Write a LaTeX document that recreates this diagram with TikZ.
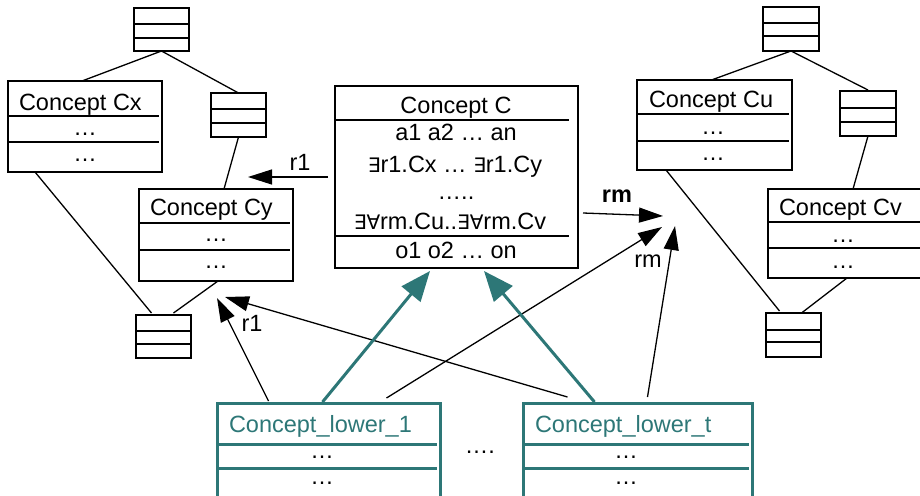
\documentclass[tikz,border=0pt]{standalone}
\usepackage{fontspec}
\setmainfont{Liberation Sans}
\newfontfamily\opfont{DejaVu Sans}[Scale=0.85]
\usetikzlibrary{arrows.meta,calc}
\definecolor{tealc}{RGB}{45,119,119}
% logical quantifiers taken from a font that has them
\newcommand\qex{{\opfont ∃}}
\newcommand\qall{{\opfont ∀}}
% a framed box: [style]{x1}{y1}{x2}{y2}{name}
\newcommand\umlframe[6][]{%
  \node[umlbox,#1,minimum width=#4pt-#2pt,minimum height=#5pt-#3pt] (#6) at (#2,#3) {};}

\begin{document}
\begin{tikzpicture}[x=1pt,y=-1pt,
  every node/.style={font=\fontsize{23.5}{27}\selectfont, inner sep=0pt, outer sep=0pt},
  umlbox/.style={draw, line width=1.6pt, anchor=north west},
  lowerbox/.style={draw=tealc, line width=3pt},
  divline/.style={line width=1.6pt},
  tealdiv/.style={draw=tealc, line width=3pt},
  link/.style={line width=1.3pt},
  rel/.style={line width=1.3pt, -{Triangle[length=24pt,width=15pt]}},
  isa/.style={draw=tealc, line width=3pt, -{Triangle[length=30pt,width=24pt]}},
  title/.style={anchor=base west},
  dots/.style={anchor=base},
]
\useasboundingbox (0,0) rectangle (920,495);

% ---------- left hierarchy ----------
\umlframe{134}{8}{189}{51}{tl}
\draw[divline] (134,24) -- (189,24) (134,38) -- (189,38);

\umlframe{8}{81}{162}{172}{cx}
\draw[divline] (8,116) -- (159,116) (8,142) -- (159,142);
\node[title] (cxt) at (19,110) {Concept Cx};
\node[dots] (cxd1) at (85,135) {…};
\node[dots] (cxd2) at (85,161) {…};

\umlframe{211}{93}{266}{137}{sa}
\draw[divline] (211,109) -- (266,109) (211,123) -- (266,123);

\umlframe{139}{189}{293}{281}{cy}
\draw[divline] (139,223) -- (290,223) (139,250) -- (290,250);
\node[title] (cyt) at (150,215) {Concept Cy};
\node[dots] (cyd1) at (216,241) {…};
\node[dots] (cyd2) at (216,268) {…};

\umlframe{136}{315}{191}{358}{sb}
\draw[divline] (136,331) -- (191,331) (136,344) -- (191,344);

\draw[link] (tl.south) -- ([xshift=-3pt]cx.north);
\draw[link] (tl.south) -- (sa.north);
\draw[link] (sa.south) -- ($(cy.north)+(8,0)$);
\draw[link] ($(cx.south west)+(27,0)$) -- ($(sb.north)+(-12,-2)$);
\draw[link] ($(cy.south)+(2,0)$) -- ($(sb.north)+(10,-2)$);

% ---------- right hierarchy ----------
\umlframe{763}{7}{819}{51}{tr}
\draw[divline] (763,23) -- (819,23) (763,36) -- (819,36);

\umlframe{637}{80}{792}{170}{cu}
\draw[divline] (637,114) -- (789,114) (637,141) -- (789,141);
\node[title] (cut) at (649,107) {Concept Cu};
\node[dots] (cud1) at (713,134) {…};
\node[dots] (cud2) at (713,160) {…};

\umlframe{840}{91}{896}{136}{sc}
\draw[divline] (840,108) -- (896,108) (840,122) -- (896,122);

\umlframe{768}{189}{924}{278}{cv}
\draw[divline] (768,222) -- (924,222) (768,248) -- (924,248);
\node[title] (cvt) at (779,215) {Concept Cv};
\node[dots] (cvd1) at (843,242) {…};
\node[dots] (cvd2) at (843,268) {…};

\umlframe{766}{313}{821}{357}{sd}
\draw[divline] (766,330) -- (821,330) (766,342) -- (821,342);

\draw[link] (tr.south) -- ([xshift=-3pt]cu.north);
\draw[link] (tr.south) -- ($(sc.north)+(-0,-1)$);
\draw[link] (sc.south) -- ($(cv.north)+(7,0)$);
\draw[link] ($(cu.south west)+(29,0)$) -- ($(sd.north)+(-14,-2)$);
\draw[link] ($(cv.south)+(1,0)$) -- ($(sd.north)+(8,0)$);

% ---------- central concept ----------
\umlframe{335}{86}{578}{268}{cc}
\draw[divline] (335,120) -- (569,120) (335,236) -- (569,236);
\node[dots] (cct) at (456,113) {Concept C};
\node[dots] (cca) at (456,140) {a1 a2 … an};
\node[dots] (ccr) at (455,172) {\qex r1.Cx … \qex r1.Cy};
\node[dots] (ccm) at (456,199) {…..};
\node[dots] (ccv) at (450,229) {\qex\qall rm.Cu..\qex\qall rm.Cv};
\node[dots] (cco) at (456,258) {o1 o2 … on};

% ---------- lower concepts ----------
\umlframe[lowerbox]{217}{403}{440}{512}{lo}
\draw[tealdiv] (217,444) -- (437,444) (217,468) -- (437,468);
\node[title, text=tealc] (lot) at (229,432) {Concept\_lower\_1};
\node[dots] (lod1) at (322,458) {…};
\node[dots] (lod2) at (322,484) {…};

\umlframe[lowerbox]{523}{403}{752}{512}{lt}
\draw[tealdiv] (523,444) -- (749,444) (523,468) -- (749,468);
\node[title, text=tealc] (ltt) at (535,432) {Concept\_lower\_t};
\node[dots] (ltd1) at (626,458) {…};
\node[dots] (ltd2) at (626,484) {…};

\node[dots] (gap) at (480,453) {….};

% ---------- role arrows ----------
\coordinate (r1tip) at (248,177);
\coordinate (rmtipA) at (663,216);
\coordinate (rmtipB) at (662,227);
\coordinate (rmtipC) at (675,226);
\coordinate (cytipA) at (217,298);
\coordinate (cytipB) at (225,297);
\coordinate (cctipL) at (430,271);
\coordinate (cctipR) at (484,271);

\draw[rel] ($(cc.west)+(-7,0)$) -- (r1tip);
\node (r1a) at (300,162) {r1};
\draw[rel] ($(cc.east)+(5,36)$) -- (rmtipA);
\node[dots] (rma) at (617,202) {\bfseries rm};
\draw[rel] ($(lo.north)+(58,-5)$) -- (rmtipB);
\draw[rel] ($(lt.north)+(10,-6)$) -- (rmtipC);
\node[dots] (rmb) at (648,267) {rm};
\draw[rel] ($(lo.north)+(-60,-2)$) -- (cytipA);
\node[dots] (r1b) at (252,331) {r1};
\draw[rel] ($(lt.north)+(-70,-6)$) -- (cytipB);

% ---------- subsumption arrows ----------
\draw[isa] ($(lo.north)+(-6,-1)$) -- (cctipL);
\draw[isa] ($(lt.north)+(-43,-1)$) -- (cctipR);
\end{tikzpicture}
\end{document}
